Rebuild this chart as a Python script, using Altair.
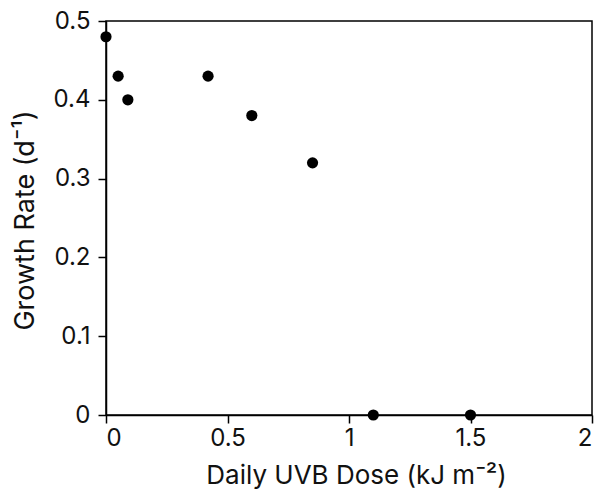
import altair as alt
import pandas as pd

dose = [0.0, 0.05, 0.09, 0.42, 0.60, 0.85, 1.10, 1.50]
growth = [0.48, 0.43, 0.40, 0.43, 0.38, 0.32, 0.0, 0.0]

df = pd.DataFrame({"dose": dose, "growth": growth})

FONT = "Inter"

chart = alt.Chart(df).mark_circle(size=125, color="black", opacity=1, clip=False).encode(
    x=alt.X("dose:Q",
            scale=alt.Scale(domain=[0, 2], nice=False, zero=False),
            axis=alt.Axis(values=[0, 0.5, 1, 1.5, 2], format="~g",
                          title="Daily UVB Dose (kJ m⁻²)",
                          titleBaseline="alphabetic", titleY=68, titleX=250,
                          titleFontSize=26,
                          labelPadding=3)),
    y=alt.Y("growth:Q",
            scale=alt.Scale(domain=[0, 0.5], nice=False),
            axis=alt.Axis(values=[0, 0.1, 0.2, 0.3, 0.4, 0.5], format="~g",
                          title="Growth Rate (d⁻¹)",
                          titleAngle=270, titleBaseline="alphabetic",
                          titleX=-73, titleY=199, titleAlign="center",
                          titleFontSize=27,
                          labelPadding=8)),
).properties(
    width=486, height=394,
    autosize=alt.AutoSizeParams(type="none"),
    padding={"left": 98, "top": 13, "right": 6, "bottom": 79},
).configure_view(
    stroke="black", strokeWidth=1.5
).configure_axis(
    grid=False,
    domainColor="black", domainWidth=1.5,
    tickColor="black", tickWidth=1.5, tickSize=8,
    labelFont=FONT, labelFontSize=24, labelColor="#111",
    titleFont=FONT, titleColor="#111", titleFontWeight="normal",
)

chart.save("out.html", embed_options={"renderer": "svg", "actions": False})
